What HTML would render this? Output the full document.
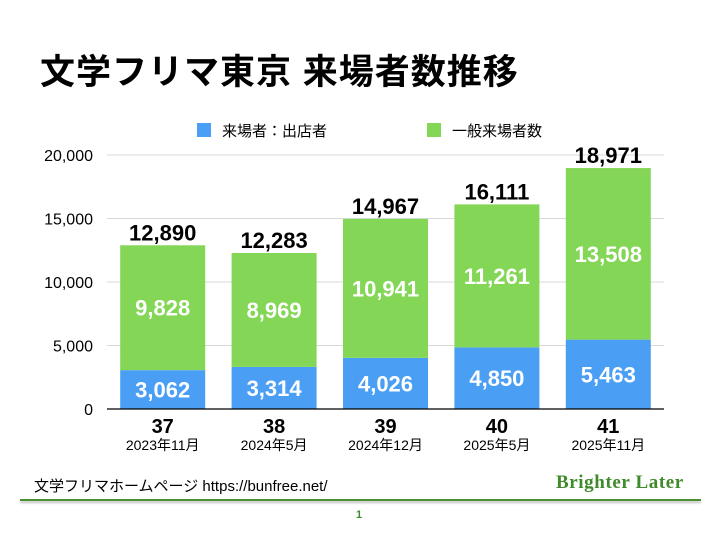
<!DOCTYPE html>
<html><head><meta charset="utf-8">
<style>
body{margin:0;width:720px;height:540px;background:#fff;overflow:hidden;font-family:"Liberation Sans","Noto Sans CJK JP",sans-serif;position:relative}
.t{position:absolute;white-space:nowrap}
</style></head>
<body>
<div class="t" style="left:40px;top:44px;font-size:35px;font-weight:bold;color:#000;letter-spacing:1px">文学フリマ東京 来場者数推移</div>
<svg id="chart" width="720" height="540" style="position:absolute;left:0;top:0"></svg>
<div class="t" style="left:34px;top:475px;font-size:15px;color:#000">文学フリマホームページ https://bunfree.net/</div>
<div class="t" style="left:556px;top:472px;font-size:19px;font-weight:bold;color:#3f8a2a;font-family:'Liberation Serif',serif;letter-spacing:0.6px">Brighter Later</div>
<div style="position:absolute;left:20px;top:499px;width:681px;height:2px;background:#4a8f30;box-shadow:0 2px 2px #bbb"></div>
<div class="t" style="left:356px;top:509px;font-size:11px;font-weight:bold;color:#3f8a2a">1</div>
<script>
const categories=["37","38","39","40","41"];
const dates=["2023年11月","2024年5月","2024年12月","2025年5月","2025年11月"];
const exhibitors=[3062,3314,4026,4850,5463];
const general=[9828,8969,10941,11261,13508];
const totals=[12890,12283,14967,16111,18971];
const yTicks=[0,5000,10000,15000,20000];
const svg=document.getElementById('chart');
const NS='http://www.w3.org/2000/svg';
const x0=107,x1=664,y0=409,yTop=155,yMax=20000;
const y=v=>y0-(v/yMax)*(y0-yTop);
const step=(x1-x0)/categories.length,bw=85;
const cx=i=>x0+step*(i+0.5);
const fmt=v=>v.toLocaleString('en-US');
function mk(tag,attrs,text){const e=document.createElementNS(NS,tag);for(const k in attrs)e.setAttribute(k,attrs[k]);if(text!=null)e.textContent=text;svg.appendChild(e);return e;}
yTicks.forEach(t=>{
 if(t>0){const g=mk('line',{x1:x0,x2:x1,y1:y(t),y2:y(t),stroke:'#d8d8d8','stroke-width':1});
 
 }
 const l=mk('text',{x:93,y:y(t)+6,'text-anchor':'end','font-size':16,fill:'#000'},fmt(t));
 
 
});
categories.forEach((c,i)=>{
 const xl=cx(i)-bw/2;
 const b=mk('rect',{x:xl,y:y(exhibitors[i]),width:bw,height:y0-y(exhibitors[i]),fill:'#4a9ff5'});
 
 
 const g=mk('rect',{x:xl,y:y(exhibitors[i]+general[i]),width:bw,height:y(exhibitors[i])-y(exhibitors[i]+general[i]),fill:'#84d656'});
 
 
 const v1=mk('text',{x:cx(i),y:(y0+y(exhibitors[i]))/2+8,'text-anchor':'middle','font-size':22,'font-weight':'bold',fill:'#fff'},fmt(exhibitors[i]));
 
 
 const v2=mk('text',{x:cx(i),y:(y(exhibitors[i])+y(exhibitors[i]+general[i]))/2+8,'text-anchor':'middle','font-size':22,'font-weight':'bold',fill:'#fff'},fmt(general[i]));
 
 
 const v3=mk('text',{x:cx(i),y:y(totals[i])-5,'text-anchor':'middle','font-size':22,'font-weight':'bold',fill:'#000'},fmt(totals[i]));
 
 
 const cl=mk('text',{x:cx(i),y:433,'text-anchor':'middle','font-size':20,'font-weight':'bold',fill:'#000'},c);
 
 
 const dl=mk('text',{x:cx(i),y:450,'text-anchor':'middle','font-size':14,fill:'#000'},dates[i]);
 
 
});
const ax=mk('line',{x1:x0,x2:x1,y1:y0,y2:y0,stroke:'#000','stroke-width':1.2});


const legend=[["来場者：出店者",'#4a9ff5',197],["一般来場者数",'#84d656',427]];
legend.forEach(l=>{
 const r=mk('rect',{x:l[2],y:123,width:14,height:14,fill:l[1]});
 
 
 const t=mk('text',{x:l[2]+25,y:136,'font-size':15,fill:'#000'},l[0]);
 
 
});
</script>
</body></html>
